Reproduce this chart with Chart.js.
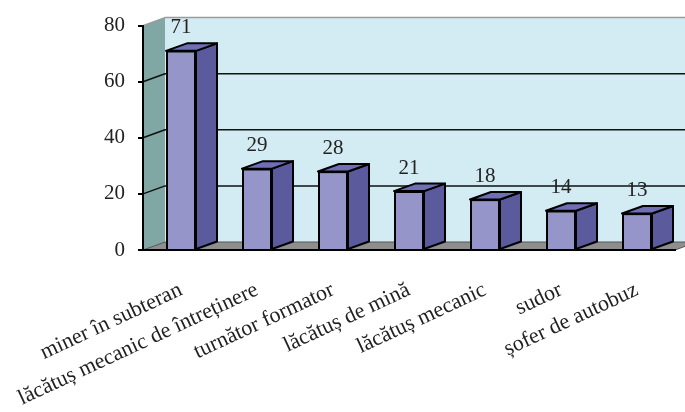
<!DOCTYPE html>
<html><head><meta charset="utf-8">
<script src="https://cdn.jsdelivr.net/npm/chart.js@4.4.0/dist/chart.umd.min.js"></script>
<style>html,body{margin:0;padding:0;background:#fff}</style>
</head><body>
<canvas id="c" width="685" height="412" style="width:685px;height:412px;display:block"></canvas>
<script>
const categories = ['miner în subteran','lăcătuș mecanic de întreținere','turnător formator','lăcătuș de mină','lăcătuș mecanic','sudor','șofer de autobuz'];
const values = [71, 29, 28, 21, 18, 14, 13];
const yTicks = [0, 20, 40, 60, 80];

const WALL_DX = 22, WALL_DY = -8;
const BAR_DX = 21, BAR_DY = -7.5;
const COL = {
  back: '#d3ecf3', left: '#80a7a3', floor: '#8e8e8e',
  front: '#9595c9', side: '#5a5a9d', top: '#6f6fb6'
};

function poly(ctx, pts, fill, stroke, lw) {
  ctx.beginPath();
  ctx.moveTo(pts[0][0], pts[0][1]);
  for (let i = 1; i < pts.length; i++) ctx.lineTo(pts[i][0], pts[i][1]);
  ctx.closePath();
  if (fill) { ctx.fillStyle = fill; ctx.fill(); }
  if (stroke) { ctx.strokeStyle = stroke; ctx.lineWidth = lw || 1; ctx.lineJoin = 'round'; ctx.stroke(); }
}

const threeD = {
  id: 'threeD',
  beforeDraw(chart) {
    const { ctx, chartArea: a, scales: { y } } = chart;
    const L = a.left, R = a.right;
    const T = y.getPixelForValue(yTicks[yTicks.length - 1]), B = y.getPixelForValue(0);
    ctx.save();
    poly(ctx, [[L + WALL_DX, T + WALL_DY], [R + WALL_DX + 40, T + WALL_DY], [R + WALL_DX + 40, B + WALL_DY], [L + WALL_DX, B + WALL_DY]], COL.back);
    poly(ctx, [[L, T], [L + WALL_DX, T + WALL_DY], [L + WALL_DX, B + WALL_DY], [L, B]], COL.left);
    poly(ctx, [[L, B], [L + WALL_DX, B + WALL_DY], [R + WALL_DX, B + WALL_DY], [R, B]], COL.floor, '#555', 1);
    ctx.strokeStyle = '#9a9a9a'; ctx.lineWidth = 1.5;
    ctx.beginPath();
    ctx.moveTo(L, T); ctx.lineTo(L + WALL_DX, T + WALL_DY); ctx.lineTo(R + WALL_DX + 40, T + WALL_DY);
    ctx.stroke();
    ctx.strokeStyle = '#111'; ctx.lineWidth = 1.5;
    yTicks.slice(1, -1).forEach(v => {
      const py = y.getPixelForValue(v);
      ctx.beginPath();
      ctx.moveTo(L, py); ctx.lineTo(L + WALL_DX, py + WALL_DY); ctx.lineTo(R + WALL_DX + 40, py + WALL_DY);
      ctx.stroke();
    });
    ctx.restore();
  },
  afterDatasetsDraw(chart) {
    const { ctx } = chart;
    const meta = chart.getDatasetMeta(0);
    ctx.save();
    meta.data.forEach((bar, i) => {
      const { x, y, base, width } = bar.getProps(['x', 'y', 'base', 'width'], true);
      const l = x - width / 2, r = x + width / 2;
      poly(ctx, [[r, y], [r + BAR_DX, y + BAR_DY], [r + BAR_DX, base + BAR_DY], [r, base]], COL.side, '#000', 2);
      poly(ctx, [[l, y], [l + BAR_DX, y + BAR_DY], [r + BAR_DX, y + BAR_DY], [r, y]], COL.top, '#000', 2);
      ctx.fillStyle = '#222';
      ctx.font = '21px "Liberation Serif"';
      ctx.textAlign = 'center';
      ctx.textBaseline = 'middle';
      ctx.fillText(String(values[i]), x, y - 23);
    });
    ctx.restore();
  }
};

Chart.defaults.font.family = '"Liberation Serif", "Times New Roman", serif';
Chart.defaults.color = '#222';

new Chart(document.getElementById('c'), {
  type: 'bar',
  data: {
    labels: categories,
    datasets: [{
      data: values,
      backgroundColor: COL.front,
      borderColor: '#000',
      borderWidth: 2,
      categoryPercentage: 1,
      barPercentage: 0.395
    }]
  },
  options: {
    responsive: false,
    animation: false,
    devicePixelRatio: 1,
    layout: { padding: { left: 0, right: 10, top: 22, bottom: 0 } },
    plugins: { legend: { display: false }, tooltip: { enabled: false } },
    scales: {
      x: {
        grid: { display: false },
        border: { display: true, color: '#000', width: 2 },
        ticks: { autoSkip: false, maxRotation: 25, minRotation: 25, padding: 19, font: { size: 22 }, color: '#222' },
        afterFit(s) { s.height = 162; }
      },
      y: {
        min: 0, max: 80,
        afterBuildTicks(s) { s.ticks = yTicks.map(v => ({ value: v })); },
        grid: { display: true, drawOnChartArea: false, drawTicks: true, tickLength: 5, color: '#000', lineWidth: 2 },
        border: { display: true, color: '#000', width: 2 },
        ticks: { padding: 13, font: { size: 21 }, color: '#222' },
        afterFit(s) { s.width = 143; }
      }
    }
  },
  plugins: [threeD]
});
</script>
</body></html>
